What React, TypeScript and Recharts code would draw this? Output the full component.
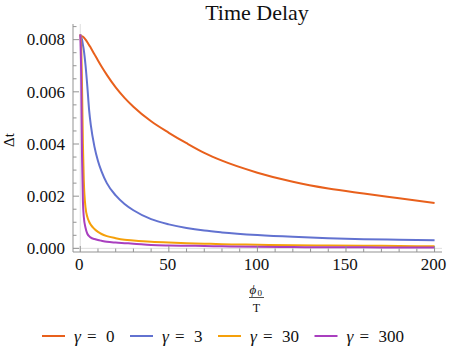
import React from 'react';
import { LineChart, Line, XAxis, YAxis, ReferenceLine } from 'recharts';

// phi0 / T sample points and the time delay for each gamma
const phiOverT = [0, 0.5, 1, 1.5, 2, 3, 4, 5, 6, 8, 10, 12, 15, 20, 25, 30, 40, 50, 60, 70, 80, 100, 120, 140, 160, 180, 200];
const delayGamma0 = [0.0081, 0.00812, 0.00813, 0.00811, 0.00808, 0.008, 0.0079, 0.00779, 0.00768, 0.00744, 0.0072, 0.00697, 0.00665, 0.00617, 0.00577, 0.00543, 0.00487, 0.00443, 0.00403, 0.00366, 0.00336, 0.0029, 0.00255, 0.00229, 0.0021, 0.00192, 0.00174];
const delayGamma3 = [0.0082, 0.0081, 0.008, 0.0078, 0.0076, 0.007, 0.0062, 0.0053, 0.0047, 0.0039, 0.00335, 0.00295, 0.0025, 0.00203, 0.0017, 0.00146, 0.00112, 0.00092, 0.00078, 0.00068, 0.00061, 0.00051, 0.00044, 0.00039, 0.00035, 0.00033, 0.00031];
const delayGamma30 = [0.0082, 0.0078, 0.0062, 0.004, 0.0026, 0.00155, 0.0012, 0.00102, 0.0009, 0.00074, 0.00063, 0.00055, 0.00047, 0.00039, 0.00033, 0.0003, 0.00025, 0.00022, 0.0002, 0.00018, 0.00016, 0.00014, 0.00012, 0.00011, 0.0001, 0.00009, 0.00008];
const delayGamma300 = [0.0082, 0.0068, 0.0035, 0.0018, 0.0012, 0.00078, 0.00056, 0.00047, 0.00041, 0.00036, 0.00032, 0.00029, 0.00025, 0.00022, 0.0002, 0.00018, 0.00013, 0.00011, 0.0001, 0.00009, 0.00008, 0.00006, 0.00005, 0.00004, 0.00004, 0.00003, 0.00003];

const gammaLabels = ['0', '3', '30', '300'];
const xTicks = [0, 10, 20, 30, 40, 50, 60, 70, 80, 90, 100, 110, 120, 130, 140, 150, 160, 170, 180, 190, 200];
const yTicks = [0, 0.0005, 0.001, 0.0015, 0.002, 0.0025, 0.003, 0.0035, 0.004, 0.0045, 0.005, 0.0055, 0.006, 0.0065, 0.007, 0.0075, 0.008, 0.0085];

const FRAME = '#939393';
const FONT = "'Liberation Serif', 'Times New Roman', serif";
const colors = ['#e8601c', '#6272d0', '#f5a00a', '#a93fbf'];
const keys = ['g0', 'g3', 'g30', 'g300'];

const data = phiOverT.map((x, i) => ({
  x,
  g0: delayGamma0[i],
  g3: delayGamma3[i],
  g30: delayGamma30[i],
  g300: delayGamma300[i],
}));

const labelStyle = { fontFamily: FONT, fontSize: 17, fill: '#111' };
const italicStyle = { fontFamily: FONT, fontSize: 17.5, fill: '#111', fontStyle: 'italic' };

const isMajorX = (v: number) => v % 50 === 0;
const isMajorY = (v: number) => Math.round(v * 10000) % 20 === 0;

function BottomTick({ x, y, payload }: any) {
  const major = isMajorX(payload.value);
  return (
    <g>
      <line x1={x} x2={x} y1={y} y2={y - (major ? 6 : 3.5)} stroke={FRAME} />
      {major && (
        <text x={x - 1} y={y + 18} textAnchor="middle" style={labelStyle}>
          {payload.value}
        </text>
      )}
    </g>
  );
}

function TopTick({ x, y, payload }: any) {
  const major = isMajorX(payload.value);
  return <line x1={x} x2={x} y1={y} y2={y + (major ? 6 : 3.5)} stroke={FRAME} />;
}

function LeftTick({ x, y, payload }: any) {
  const major = isMajorY(payload.value);
  return (
    <g>
      <line x1={x} x2={x + (major ? 6 : 3.5)} y1={y} y2={y} stroke={FRAME} />
      {major && (
        <text x={x - 8} y={y + 5.8} textAnchor="end" style={labelStyle}>
          {payload.value.toFixed(3)}
        </text>
      )}
    </g>
  );
}

function RightTick({ x, y, payload }: any) {
  const major = isMajorY(payload.value);
  return <line x1={x} x2={x - (major ? 6 : 3.5)} y1={y} y2={y} stroke={FRAME} />;
}

function Overlay() {
  let cursor = 42;
  const items = gammaLabels.map((g, i) => {
    const start = cursor;
    cursor += 79.5 + 8.5 * g.length;
    return (
      <g key={g}>
        <line x1={start} x2={start + 23} y1={336} y2={336} stroke={colors[i]} strokeWidth={2} />
        <text x={start + 32} y={342} style={italicStyle}>γ</text>
        <text x={start + 45} y={342} style={labelStyle}>=</text>
        <text x={start + 64} y={342} style={labelStyle}>{g}</text>
      </g>
    );
  });

  return (
    <svg width={449} height={355} style={{ position: 'absolute', left: 0, top: 0 }}>
      <text x={257} y={19.5} textAnchor="middle" style={{ ...labelStyle, fontSize: 22 }}>Time Delay</text>
      <text x={14} y={140} textAnchor="middle" transform="rotate(-90, 14, 140)" style={{ ...labelStyle, fontSize: 15 }}>Δt</text>
      <text x={249.5} y={293.5} style={{ ...italicStyle, fontSize: 13 }}>ϕ</text>
      <text x={257.5} y={296} style={{ ...labelStyle, fontSize: 9 }}>0</text>
      <line x1={249} x2={264} y1={297.5} y2={297.5} stroke="#222" strokeWidth={0.8} />
      <text x={256.5} y={311.5} textAnchor="middle" style={{ ...labelStyle, fontSize: 12 }}>T</text>
      {items}
    </svg>
  );
}

export default function App() {
  return (
    <div style={{ position: 'absolute', left: 0, top: 0, width: 449, height: 355, background: '#fff' }}>
      <LineChart width={449} height={355} data={data} margin={{ top: 24, right: 7, bottom: 73, left: 0 }}>
        <ReferenceLine x={0} stroke="#dedede" strokeWidth={1} />
        <ReferenceLine y={0} stroke="#dedede" strokeWidth={1} />
        <XAxis
          dataKey="x"
          type="number"
          domain={[-4.1, 204.2]}
          allowDataOverflow
          ticks={xTicks}
          interval={0}
          height={30}
          tickSize={0}
          tickMargin={0}
          tickLine={false}
          axisLine={{ stroke: FRAME }}
          tick={<BottomTick />}
        />
        <XAxis
          xAxisId="top"
          orientation="top"
          dataKey="x"
          type="number"
          domain={[-4.1, 204.2]}
          allowDataOverflow
          ticks={xTicks}
          interval={0}
          height={0}
          tickSize={0}
          tickMargin={0}
          tickLine={false}
          axisLine={{ stroke: FRAME }}
          tick={<TopTick />}
        />
        <YAxis
          type="number"
          domain={[-0.00014, 0.0086]}
          allowDataOverflow
          ticks={yTicks}
          interval={0}
          width={73}
          tickSize={0}
          tickMargin={0}
          tickLine={false}
          axisLine={{ stroke: FRAME }}
          tick={<LeftTick />}
        />
        <YAxis
          yAxisId="right"
          orientation="right"
          type="number"
          domain={[-0.00014, 0.0086]}
          allowDataOverflow
          ticks={yTicks}
          interval={0}
          width={0}
          tickSize={0}
          tickMargin={0}
          tickLine={false}
          axisLine={{ stroke: FRAME }}
          tick={<RightTick />}
        />
        {keys.map((k, i) => (
          <Line
            key={k}
            dataKey={k}
            type="monotone"
            stroke={colors[i]}
            strokeWidth={2}
            dot={false}
            isAnimationActive={false}
          />
        ))}
      </LineChart>
      <Overlay />
    </div>
  );
}
